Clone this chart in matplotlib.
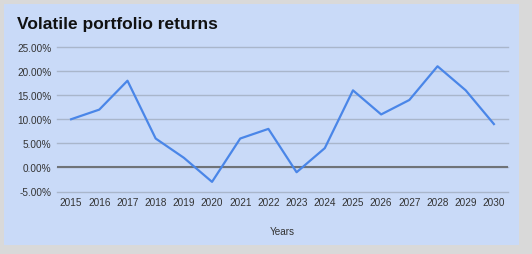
import matplotlib
matplotlib.use("Agg")
import matplotlib.pyplot as plt
from matplotlib.patches import Rectangle
from matplotlib.ticker import FuncFormatter

# data
years = [2015, 2016, 2017, 2018, 2019, 2020, 2021, 2022,
         2023, 2024, 2025, 2026, 2027, 2028, 2029, 2030]
returns = [10, 12, 18, 6, 2, -3, 6, 8, -1, 4, 16, 11, 14, 21, 16, 9]
y_ticks = [-5, 0, 5, 10, 15, 20, 25]

plt.rcParams['font.family'] = ['Liberation Sans', 'DejaVu Sans']

W, H = 532, 255
fig = plt.figure(figsize=(W / 100, H / 100), dpi=100)
fig.patch.set_facecolor('#d9d9d9')

# light blue panel, drawn behind the chart axes
fig.patches.append(Rectangle((4 / W, 1 - 246 / H), 515 / W, 241 / H,
                             transform=fig.transFigure, facecolor='#c9daf8',
                             edgecolor='none', zorder=-10))

ax = fig.add_axes([57 / W, 1 - 192.5 / H, 451 / W, 144.5 / H])
ax.set_facecolor('none')
ax.set_zorder(5)

ax.plot(years, returns, color='#4a86e8', linewidth=1.6, zorder=3)

ax.set_xlim(2014.5, 2030.5)
ax.set_ylim(-5, 25)
ax.set_xticks(years)
ax.set_yticks(y_ticks)
ax.yaxis.set_major_formatter(FuncFormatter(lambda v, p: f"{v:.2f}%"))
ax.grid(axis='y', color='#a9b6cb', linewidth=1)
for gl in ax.get_ygridlines():
    gl.set_clip_on(False)
ax.axhline(0, color='#6f7378', linewidth=1.5, zorder=2)

for s in ax.spines.values():
    s.set_visible(False)
ax.tick_params(length=0, labelsize=7.2, colors='#333333', pad=4)

ax.set_xlabel("Years", fontsize=7.2, color='#333333', labelpad=14)

fig.text(17 / W, 1 - 25 / H, "Volatile portfolio returns", fontsize=12.5,
         fontweight='bold', color='#111111', va='center', ha='left')

fig.savefig("out.png", dpi=100, facecolor=fig.get_facecolor())
